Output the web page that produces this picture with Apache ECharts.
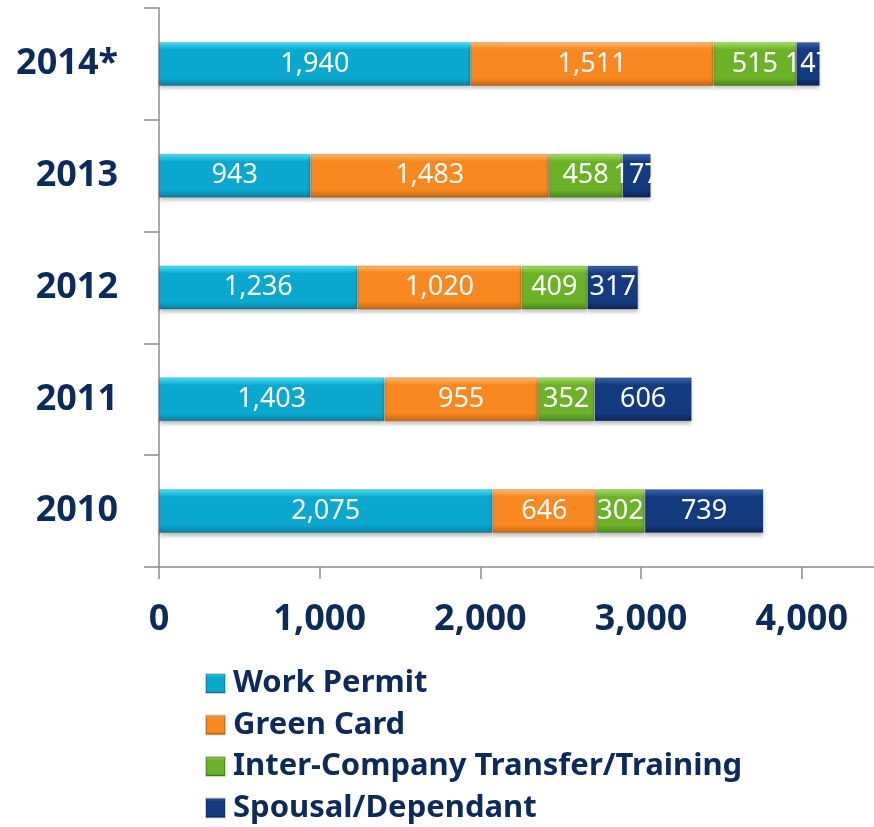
<!DOCTYPE html>
<html>
<head>
<meta charset="utf-8">
<script src="https://cdn.jsdelivr.net/npm/echarts@6/dist/echarts.min.js"></script>
<style>
  html, body { margin: 0; padding: 0; background: #fff; }
  #chart { width: 874px; height: 827px; }
</style>
</head>
<body>
<div id="chart"></div>
<script>
// years, bottom to top
var years = ['2010', '2011', '2012', '2013', '2014*'];
var workPermit = [2075, 1403, 1236, 943, 1940];
var greenCard = [646, 955, 1020, 1483, 1511];
var interCompany = [302, 352, 409, 458, 515];
var spousal = [739, 606, 317, 177, 147];
var xTicks = [0, 1000, 2000, 3000, 4000];

var navy = '#0d2a5c';
var font = 'Noto Sans';

function glossy(top, base, bottom) {
  return new echarts.graphic.LinearGradient(0, 0, 0, 1, [
    { offset: 0, color: top },
    { offset: 0.18, color: base },
    { offset: 0.82, color: base },
    { offset: 1, color: bottom }
  ]);
}

function fmt(v) {
  return String(v).replace(/\B(?=(\d{3})+(?!\d))/g, ',');
}

function makeSeries(name, data, fill) {
  return {
    name: name,
    type: 'bar',
    stack: 'total',
    barWidth: 44,
    data: data,
    itemStyle: {
      color: fill,
      borderColor: 'rgba(0,0,0,0.18)',
      borderWidth: 1,
      shadowBlur: 4,
      shadowOffsetY: 3,
      shadowColor: 'rgba(0,0,0,0.25)'
    },
    label: {
      show: true,
      position: 'inside',
      color: '#fff',
      fontFamily: font,
      fontSize: 27,
      formatter: function (p) { return fmt(p.value); }
    }
  };
}

var chart = echarts.init(document.getElementById('chart'));
chart.setOption({
  animation: false,
  backgroundColor: '#fff',
  grid: { left: 159, right: 0, top: 8, bottom: 260 },
  legend: {
    orient: 'vertical',
    left: 205,
    top: 668,
    padding: 0,
    itemWidth: 19,
    itemHeight: 19,
    itemGap: 10.5,
    icon: 'rect',
    selectedMode: false,
    textStyle: { color: navy, fontFamily: font, fontWeight: 'bold', fontSize: 31, padding: [0, 0, 0, 3] },
    data: ['Work Permit', 'Green Card', 'Inter-Company Transfer/Training', 'Spousal/Dependant']
  },
  xAxis: {
    type: 'value',
    min: 0,
    max: 4450,
    interval: 1000,
    splitLine: { show: false },
    axisLine: { show: true, lineStyle: { color: '#8c8c8c', width: 1.5 } },
    axisTick: {
      show: true, length: 12, lineStyle: { color: '#8c8c8c', width: 1.5 },
      customValues: xTicks
    },
    axisLabel: {
      margin: 35,
      color: navy,
      fontFamily: font,
      fontWeight: 'bold',
      fontSize: 36,
      customValues: xTicks,
      formatter: function (v) { return fmt(v); }
    }
  },
  yAxis: {
    type: 'category',
    data: years,
    axisLine: { show: true, lineStyle: { color: '#8c8c8c', width: 1.5 } },
    axisTick: { show: true, length: 15, lineStyle: { color: '#8c8c8c', width: 1.5 } },
    axisLabel: {
      margin: 41,
      color: navy,
      fontFamily: font,
      fontWeight: 'bold',
      fontSize: 36
    }
  },
  series: [
    makeSeries('Work Permit', workPermit, glossy('#47e4fa', '#0aa8cf', '#06809e')),
    makeSeries('Green Card', greenCard, glossy('#ffbb66', '#f8881f', '#c4670f')),
    makeSeries('Inter-Company Transfer/Training', interCompany, glossy('#a8e35c', '#6bb229', '#4a8716')),
    makeSeries('Spousal/Dependant', spousal, glossy('#3c66b4', '#143a80', '#0b2456'))
  ]
});
</script>
</body>
</html>
